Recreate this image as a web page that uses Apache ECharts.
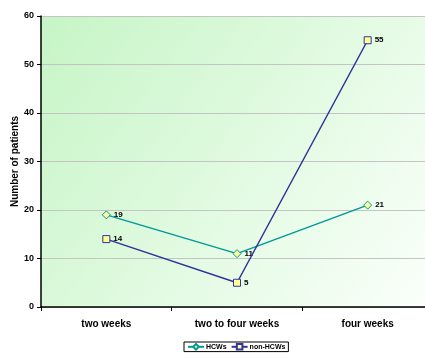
<!DOCTYPE html>
<html>
<head>
<meta charset="utf-8">
<script src="https://cdn.jsdelivr.net/npm/echarts@6/dist/echarts.min.js"></script>
<style>
  html, body { margin: 0; padding: 0; background: #fff; }
  #chart { width: 425px; height: 354px; }
</style>
</head>
<body>
<div id="chart"></div>
<script>
// Time to onset, patient counts per group
const categories = ['two weeks', 'two to four weeks', 'four weeks'];
const hcws = [19, 11, 21];
const nonHcws = [14, 5, 55];
const yTicks = { min: 0, max: 60, interval: 10 };

const chart = echarts.init(document.getElementById('chart'), null, { renderer: 'canvas' });

const font = 'Liberation Sans, Arial, sans-serif';

const labelStyle = {
  show: true,
  position: 'right',
  distance: 3,
  fontFamily: font,
  fontSize: 8,
  fontWeight: 'bold',
  color: '#000'
};

chart.setOption({
  animation: false,
  graphic: [{
    type: 'rect',
    z: -1,
    shape: { x: 41, y: 16, width: 392, height: 291 },
    style: {
      fill: new echarts.graphic.LinearGradient(0, 0, 1, 1, [
        { offset: 0, color: '#c6f5c6' },
        { offset: 1, color: '#fbfffb' }
      ])
    },
    silent: true
  }],
  grid: {
    left: 41, top: 16, width: 392, height: 291,
    containLabel: false,
    outerBoundsMode: 'none'
  },
  legend: {
    top: 342,
    left: 184,
    itemWidth: 16,
    itemHeight: 7,
    itemGap: 4,
    padding: [1, 3, 1, 3],
    borderColor: '#000',
    borderWidth: 1,
    textStyle: {
      fontFamily: font,
      fontSize: 7,
      fontWeight: 'bold',
      color: '#000',
      padding: [0, 0, 0, -3]
    },
    data: ['HCWs', 'non-HCWs']
  },
  xAxis: {
    type: 'category',
    data: categories,
    boundaryGap: true,
    axisLine: { lineStyle: { color: '#000', width: 1.5 } },
    axisTick: { show: true, alignWithLabel: false, length: 4, lineStyle: { color: '#000' } },
    axisLabel: {
      margin: 12,
      fontFamily: font,
      fontSize: 10,
      fontWeight: 'bold',
      color: '#000'
    },
    splitLine: { show: false }
  },
  yAxis: {
    type: 'value',
    min: yTicks.min,
    max: yTicks.max,
    interval: yTicks.interval,
    name: 'Number of patients',
    nameLocation: 'middle',
    nameGap: 21,
    nameRotate: 90,
    nameMoveOverlap: false,
    nameTextStyle: {
      fontFamily: font,
      fontSize: 10,
      fontWeight: 'bold',
      color: '#000'
    },
    axisLine: { show: true, lineStyle: { color: '#000', width: 1.5 } },
    axisTick: { show: true, length: 4, lineStyle: { color: '#000' } },
    axisLabel: {
      margin: 7,
      fontFamily: font,
      fontSize: 9,
      fontWeight: 'bold',
      color: '#000'
    },
    splitLine: { show: true, lineStyle: { color: '#c4c4c4', width: 1 } }
  },
  series: [
    {
      name: 'HCWs',
      type: 'line',
      data: hcws,
      symbol: 'diamond',
      symbolSize: 8,
      lineStyle: { color: '#009999', width: 1.5 },
      itemStyle: { color: '#ffff99', borderColor: '#009999', borderWidth: 1 },
      label: labelStyle,
      z: 3
    },
    {
      name: 'non-HCWs',
      type: 'line',
      data: nonHcws,
      symbol: 'rect',
      symbolSize: 7,
      lineStyle: { color: '#333399', width: 1.5 },
      itemStyle: { color: '#ffff99', borderColor: '#333399', borderWidth: 1 },
      label: labelStyle,
      z: 4
    }
  ]
});
</script>
</body>
</html>
